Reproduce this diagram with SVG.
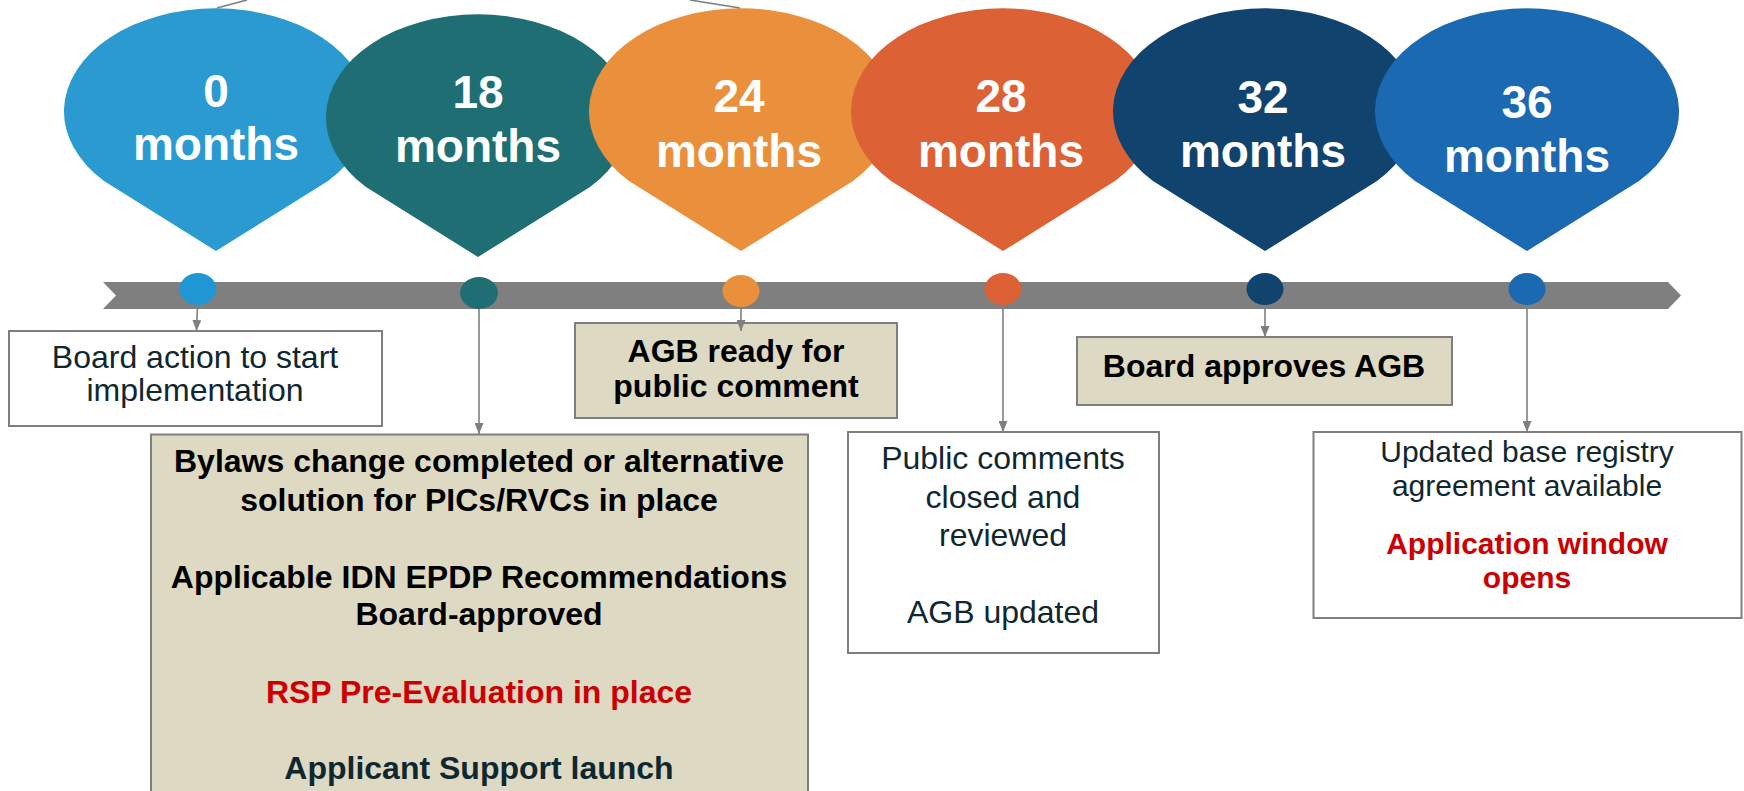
<svg xmlns="http://www.w3.org/2000/svg" width="1744" height="791" viewBox="0 0 1744 791">
<defs>
<style>
text{font-family:"Liberation Sans",Arial,sans-serif;text-anchor:middle}
.dt{font-size:46px;font-weight:bold;fill:#ffffff}
.bx{stroke:#7f7f7f;stroke-width:2}
.wb{fill:#ffffff}
.gb{fill:#ddd9c3}
.rg{font-size:32px;fill:#0f2830}
.bd{font-size:32px;font-weight:bold;fill:#000000}
.rd{font-size:32px;font-weight:bold;fill:#cc0000}
.dk{font-size:32px;font-weight:bold;fill:#0f2830}
.sm{font-size:30px}
.cn{stroke:#7f7f7f;stroke-width:1.6;fill:none}
</style>
<marker id="ah" viewBox="0 0 11 9" refX="11" refY="4.5" markerWidth="11" markerHeight="9" markerUnits="userSpaceOnUse" orient="auto">
<path d="M0,0 L11,4.5 L0,9 z" fill="#7f7f7f"/>
</marker>
</defs>
<rect width="1744" height="791" fill="#ffffff"/>

<g id="timeline-bar">
<polygon points="103,282 1668,282 1681,295.5 1668,309 103,309 116,295.5" fill="#7f7f7f"/>
</g>

<g id="drop-0">
<path d="M104,181 A152,103 0 1 1 328,181 L216,251 Z" fill="#2a9ad1"/>
<text class="dt" x="216" y="107">0<tspan x="216" dy="53">months</tspan></text>
</g>
<g id="drop-18">
<path d="M366,187 A152,103 0 1 1 590,187 L478,257 Z" fill="#1e6e73"/>
<text class="dt" x="478" y="108">18<tspan x="478" dy="54">months</tspan></text>
</g>
<g id="drop-24">
<path d="M629,181 A152,103 0 1 1 853,181 L741,251 Z" fill="#ea903c"/>
<text class="dt" x="739" y="112">24<tspan x="739" dy="55">months</tspan></text>
</g>
<g id="drop-28">
<path d="M891,181 A152,103 0 1 1 1115,181 L1003,251 Z" fill="#dc6134"/>
<text class="dt" x="1001" y="112">28<tspan x="1001" dy="55">months</tspan></text>
</g>
<g id="drop-32">
<path d="M1153,181 A152,103 0 1 1 1377,181 L1265,251 Z" fill="#10436d"/>
<text class="dt" x="1263" y="113">32<tspan x="1263" dy="54">months</tspan></text>
</g>
<g id="drop-36">
<path d="M1415,181 A152,103 0 1 1 1639,181 L1527,251 Z" fill="#1b69b0"/>
<text class="dt" x="1527" y="118">36<tspan x="1527" dy="54">months</tspan></text>
</g>

<g id="dots">
<ellipse cx="198" cy="289" rx="18.5" ry="16" fill="#2196d4"/>
<ellipse cx="479" cy="293" rx="19" ry="16" fill="#1e6e73"/>
<ellipse cx="741" cy="291" rx="18.5" ry="16" fill="#ea903c"/>
<ellipse cx="1003" cy="289" rx="18.5" ry="16" fill="#dc6134"/>
<ellipse cx="1265" cy="289" rx="18.5" ry="16" fill="#10436d"/>
<ellipse cx="1527" cy="289" rx="18.5" ry="16" fill="#1b69b0"/>
</g>

<g id="box-board-action">
<rect class="bx wb" x="9" y="331" width="373" height="95"/>
<text class="rg" x="195" y="368">Board action to start<tspan x="195" dy="33">implementation</tspan></text>
</g>
<g id="box-bylaws">
<rect class="bx gb" x="151" y="434.5" width="657" height="370"/>
<text class="bd" x="479" y="472">Bylaws change completed or alternative<tspan x="479" dy="38.5">solution for PICs/RVCs in place</tspan></text>
<text class="bd" x="479" y="588">Applicable IDN EPDP Recommendations<tspan x="479" dy="36.5">Board-approved</tspan></text>
<text class="rd" x="479" y="703">RSP Pre-Evaluation in place</text>
<text class="dk" x="479" y="779">Applicant Support launch</text>
</g>
<g id="box-agb-ready">
<rect class="bx gb" x="575" y="323" width="322" height="95"/>
<text class="bd" x="736" y="362">AGB ready for<tspan x="736" dy="35">public comment</tspan></text>
</g>
<g id="box-public-comments">
<rect class="bx wb" x="848" y="432" width="311" height="221"/>
<text class="rg" x="1003" y="469">Public comments<tspan x="1003" dy="39">closed and</tspan><tspan x="1003" dy="38">reviewed</tspan></text>
<text class="rg" x="1003" y="623">AGB updated</text>
</g>
<g id="box-board-approves">
<rect class="bx gb" x="1077" y="337" width="375" height="68"/>
<text class="bd" x="1264" y="377">Board approves AGB</text>
</g>
<g id="box-application-window">
<rect class="bx wb" x="1313.5" y="432" width="428" height="186"/>
<text class="rg sm" x="1527" y="462">Updated base registry<tspan x="1527" dy="34">agreement available</tspan></text>
<text class="rd sm" x="1527" y="554">Application window<tspan x="1527" dy="34">opens</tspan></text>
</g>

<g id="connectors">
<line class="cn" x1="217" y1="8" x2="247" y2="0"/>
<line class="cn" x1="690" y1="0" x2="740" y2="8"/>
<line class="cn" x1="197.5" y1="305" x2="196.5" y2="331" marker-end="url(#ah)"/>
<line class="cn" x1="479" y1="309" x2="479" y2="434" marker-end="url(#ah)"/>
<line class="cn" x1="741" y1="307" x2="741" y2="331" marker-end="url(#ah)"/>
<line class="cn" x1="1003" y1="305" x2="1003" y2="432" marker-end="url(#ah)"/>
<line class="cn" x1="1265" y1="305" x2="1265" y2="337" marker-end="url(#ah)"/>
<line class="cn" x1="1527" y1="305" x2="1527" y2="432" marker-end="url(#ah)"/>
</g>
</svg>
